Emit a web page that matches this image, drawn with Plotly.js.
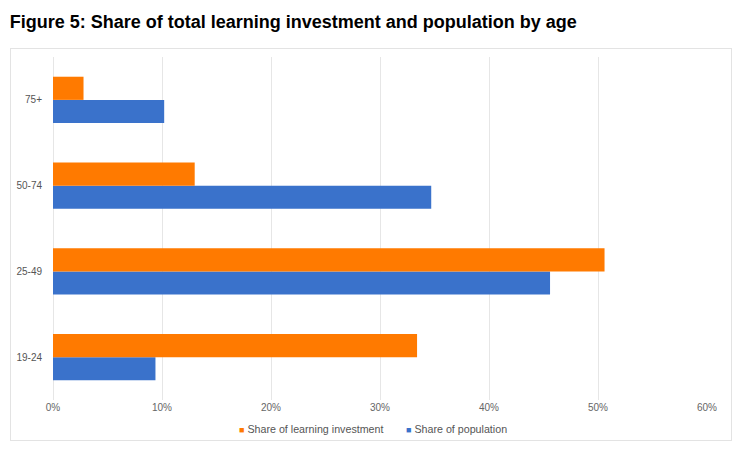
<!DOCTYPE html>
<html><head><meta charset="utf-8">
<script src="https://cdn.plot.ly/plotly-3.0.1.min.js"></script>
<style>
html,body{margin:0;padding:0;background:#fff;}
#frame{position:absolute;left:10px;top:48px;width:722px;height:393px;border:1px solid #e3e3e3;box-sizing:border-box;}
#chart{position:absolute;left:0;top:0;width:749px;height:464px;}
</style></head>
<body>
<div id="frame"></div>
<div id="chart"></div>
<script>
const ageGroups = ['19-24','25-49','50-74','75+'];
const learningInvestment = [33.4, 50.6, 13.0, 2.8];
const population = [9.4, 45.6, 34.7, 10.2];
const tickVals = [0,10,20,30,40,50,60];
const tickText = ['0%','10%','20%','30%','40%','50%','60%'];
const seriesNames = ['Share of learning investment','Share of population'];
const seriesColors = ['#ff7a00','#3a72cb'];

const traces = [
  {type:'bar', orientation:'h', name:seriesNames[1], y:ageGroups, x:population,
   marker:{color:seriesColors[1]}},
  {type:'bar', orientation:'h', name:seriesNames[0], y:ageGroups, x:learningInvestment,
   marker:{color:seriesColors[0]}}
];
const fnt = 'Liberation Sans, Arial, sans-serif';
const legendAnn = [
  {text:'<span style="color:'+seriesColors[0]+';font-size:9px">■</span> '+seriesNames[0], x:237},
  {text:'<span style="color:'+seriesColors[1]+';font-size:9px">■</span> '+seriesNames[1], x:404}
].map(a => ({xref:'paper', yref:'paper', x:(a.x-53)/654, y:(400-429)/343, xanchor:'left', yanchor:'middle',
  showarrow:false, text:a.text, font:{family:fnt, size:10.7, color:'#555'}}));

const layout = {
  width:749, height:464,
  paper_bgcolor:'rgba(0,0,0,0)', plot_bgcolor:'rgba(0,0,0,0)',
  margin:{l:53, r:42, t:57, b:64},
  title:{text:'<b>Figure 5: Share of total learning investment and population by age</b>',
    x:0.013, xanchor:'left', y:0.953, yanchor:'middle',
    font:{family:fnt, size:18, color:'#000'}},
  barmode:'group', bargap:0.46, bargroupgap:0,
  xaxis:{range:[0,60], tickvals:tickVals, ticktext:tickText, showgrid:true, gridcolor:'#e6e6e6',
    zeroline:true, zerolinecolor:'#e6e6e6', showline:false,
    tickfont:{family:fnt, size:10, color:'#666'}, ticks:'', ticklen:0},
  yaxis:{type:'category', categoryorder:'array', categoryarray:ageGroups, showgrid:false,
    tickfont:{family:fnt, size:10, color:'#555'}, ticks:'outside', ticklen:8, tickcolor:'rgba(0,0,0,0)'},
  showlegend:false,
  annotations:legendAnn
};
Plotly.newPlot('chart', traces, layout, {displayModeBar:false, staticPlot:true});
</script>
</body></html>
